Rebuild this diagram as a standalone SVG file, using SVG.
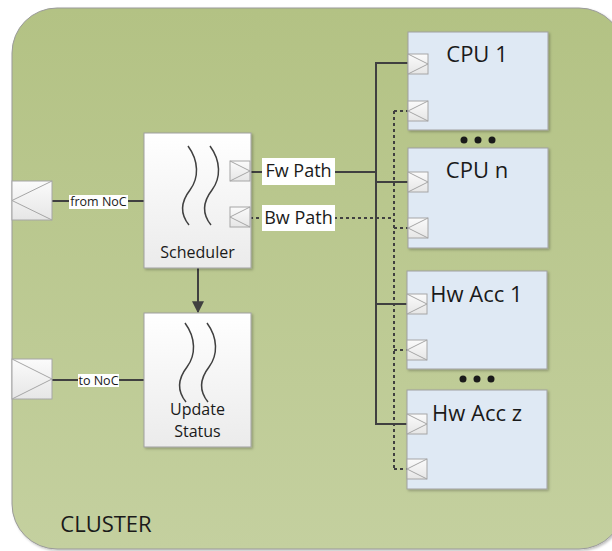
<svg xmlns="http://www.w3.org/2000/svg" width="612" height="551" viewBox="0 0 612 551">
<defs>
<linearGradient id="gCluster" x1="0" y1="0" x2="0" y2="1">
<stop offset="0" stop-color="#b3c284"/>
<stop offset="1" stop-color="#c4d09f"/>
</linearGradient>
<linearGradient id="gProc" x1="0" y1="0" x2="0" y2="1">
<stop offset="0" stop-color="#ffffff"/>
<stop offset="1" stop-color="#ebebeb"/>
</linearGradient>
<linearGradient id="gPort" x1="0" y1="0" x2="0" y2="1">
<stop offset="0" stop-color="#fbfbfb"/>
<stop offset="1" stop-color="#e6e6e6"/>
</linearGradient>
<filter id="sh" x="-10%" y="-10%" width="120%" height="120%">
<feDropShadow dx="1.5" dy="1.5" stdDeviation="1" flood-color="#000" flood-opacity="0.25"/>
</filter>
<marker id="arr" viewBox="0 0 10 10" refX="9" refY="5" markerWidth="6" markerHeight="6" markerUnits="strokeWidth" orient="auto">
<path d="M0,0 L10,5 L0,10 z" fill="#404040"/>
</marker>
<g id="portR">
<rect x="0" y="0" width="20" height="20" fill="url(#gPort)" stroke="#a6a6a6" stroke-width="1"/>
<path d="M0,0 L20,10 L0,20" fill="none" stroke="#a6a6a6" stroke-width="1"/>
</g>
<g id="portL">
<rect x="0" y="0" width="20" height="20" fill="url(#gPort)" stroke="#a6a6a6" stroke-width="1"/>
<path d="M20,0 L0,10 L20,20" fill="none" stroke="#a6a6a6" stroke-width="1"/>
</g>
<path id="wave" d="M188,146 C199,161 199,178 190,190 C180,203 180,214 189,225" fill="none" stroke="#404040" stroke-width="1.5"/>
</defs>
<style>
.lbl{font-family:"Open Sans","Noto Sans",sans-serif;fill:#1a1a1a;text-anchor:middle}
.box{stroke:#a0a0a0;stroke-width:1}
.cpu{fill:#dfe9f4}
.proc{fill:url(#gProc)}
.solid{stroke:#404040;stroke-width:2;fill:none}
.dash{stroke:#404040;stroke-width:2;fill:none;stroke-dasharray:3,3}
.tag{fill:#ffffff}
</style>

<g id="cluster">
<rect x="12" y="8" width="612" height="541" rx="45" ry="45" fill="url(#gCluster)" stroke="#9a9a9a" stroke-width="1" filter="url(#sh)"/>
<text class="lbl" x="106" y="532" font-size="22">CLUSTER</text>
</g>

<g id="connectors">
<line class="solid" x1="52" y1="201" x2="144" y2="201"/>
<line class="solid" x1="52" y1="380" x2="144" y2="380"/>
<line class="solid" x1="198" y1="268" x2="198" y2="312" marker-end="url(#arr)"/>
<line class="solid" x1="250" y1="172" x2="376" y2="172"/>
<line class="solid" x1="376" y1="62" x2="376" y2="425"/>
<line class="solid" x1="375" y1="63" x2="408" y2="63"/>
<line class="solid" x1="376" y1="182" x2="408" y2="182"/>
<line class="solid" x1="376" y1="304" x2="407" y2="304"/>
<line class="solid" x1="375" y1="424" x2="407" y2="424"/>
<line class="dash" x1="250" y1="218" x2="394" y2="218"/>
<line class="dash" x1="394" y1="111" x2="394" y2="469"/>
<line class="dash" x1="394" y1="111" x2="408" y2="111"/>
<line class="dash" x1="394" y1="228" x2="408" y2="228"/>
<line class="dash" x1="394" y1="350" x2="407" y2="350"/>
<line class="dash" x1="394" y1="469" x2="407" y2="469"/>
<rect class="tag" x="69" y="195" width="59" height="14"/>
<text class="lbl" x="98.5" y="206" font-size="12.5">from NoC</text>
<rect class="tag" x="78" y="374" width="41" height="13"/>
<text class="lbl" x="98.5" y="384.5" font-size="12.5">to NoC</text>
<rect class="tag" x="262" y="158" width="73" height="27"/>
<text class="lbl" x="298.5" y="177" font-size="18">Fw Path</text>
<rect class="tag" x="262" y="205" width="73" height="26"/>
<text class="lbl" x="298.5" y="223.5" font-size="18">Bw Path</text>
</g>

<g id="port-from-noc">
<rect x="12" y="181" width="40" height="39" fill="url(#gPort)" stroke="#a6a6a6" stroke-width="1"/>
<path d="M52,181 L12,200.5 L52,220" fill="none" stroke="#a6a6a6" stroke-width="1"/>
</g>
<g id="port-to-noc">
<rect x="12" y="359" width="40" height="40" fill="url(#gPort)" stroke="#a6a6a6" stroke-width="1"/>
<path d="M12,359 L52,379 L12,399" fill="none" stroke="#a6a6a6" stroke-width="1"/>
</g>

<g id="scheduler">
<rect class="box proc" x="144" y="133" width="107" height="135" filter="url(#sh)"/>
<use href="#wave"/>
<use href="#wave" transform="translate(22,0)"/>
<text class="lbl" x="197.5" y="258" font-size="16">Scheduler</text>
<use href="#portR" x="230" y="161"/>
<use href="#portL" x="230" y="207"/>
</g>

<g id="update-status">
<rect class="box proc" x="144" y="313" width="107" height="134" filter="url(#sh)"/>
<use href="#wave" transform="translate(-3,177)"/>
<use href="#wave" transform="translate(19,177)"/>
<text class="lbl" x="197.5" y="415" font-size="16">Update</text>
<text class="lbl" x="197.5" y="437" font-size="16">Status</text>
</g>

<g id="cpu1">
<rect class="box cpu" x="408" y="32" width="140" height="98" filter="url(#sh)"/>
<text class="lbl" x="477" y="62" font-size="22">CPU 1</text>
<use href="#portR" x="408" y="54"/>
<use href="#portL" x="408" y="101"/>
</g>

<g id="dots1" fill="#1a1a1a">
<circle cx="464" cy="140" r="3.5"/>
<circle cx="478" cy="140" r="3.5"/>
<circle cx="492" cy="140" r="3.5"/>
</g>

<g id="cpun">
<rect class="box cpu" x="408" y="148" width="140" height="100" filter="url(#sh)"/>
<text class="lbl" x="477" y="178" font-size="22">CPU n</text>
<use href="#portR" x="408" y="172"/>
<use href="#portL" x="408" y="218"/>
</g>

<g id="hwacc1">
<rect class="box cpu" x="407" y="271" width="140" height="98" filter="url(#sh)"/>
<text class="lbl" x="476.5" y="302" font-size="22">Hw Acc 1</text>
<use href="#portR" x="407" y="294"/>
<use href="#portL" x="407" y="340"/>
</g>

<g id="dots2" fill="#1a1a1a">
<circle cx="463" cy="379" r="3.5"/>
<circle cx="477" cy="379" r="3.5"/>
<circle cx="491" cy="379" r="3.5"/>
</g>

<g id="hwaccz">
<rect class="box cpu" x="407" y="390" width="140" height="99" filter="url(#sh)"/>
<text class="lbl" x="477" y="421" font-size="22">Hw Acc z</text>
<use href="#portR" x="407" y="414"/>
<use href="#portL" x="407" y="459"/>
</g>
</svg>
